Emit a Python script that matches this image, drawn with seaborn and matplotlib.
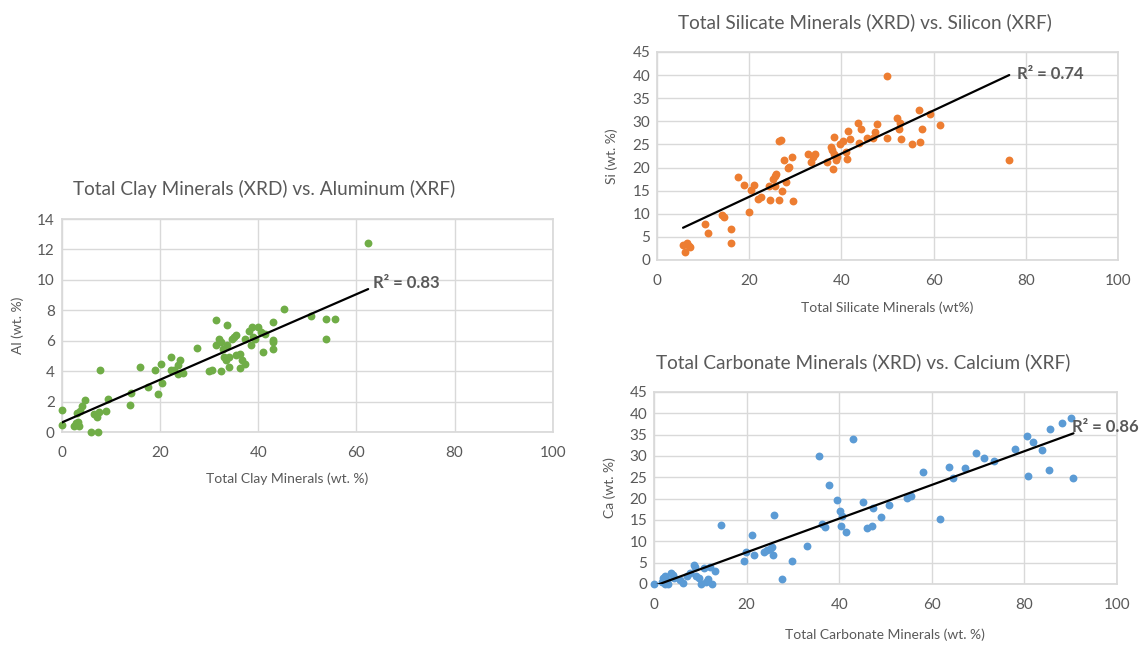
import numpy as np
import pandas as pd
import matplotlib
matplotlib.use('Agg')
import matplotlib.pyplot as plt
import seaborn as sns

# clay vs aluminum
clay_x = [0, 0, 2.4, 2.9, 3.4, 3.5, 3.1, 3.7, 4.2, 4.7, 5.9, 6.6, 7.1, 7.4, 7.8, 7.6, 9.0, 9.4,
          13.8, 14.0, 15.9, 17.5, 19.0, 19.7, 20.3, 20.4, 22.2, 22.2, 22.9, 23.6, 24.1, 23.6, 24.7,
          27.5, 30.0, 30.5, 31.4, 31.4, 32.0, 32.5, 32.5, 32.9, 33.0, 33.4, 33.7, 33.6, 34.1, 34.0,
          34.6, 35.1, 35.5, 35.4, 36.3, 36.4, 36.8, 37.4, 37.3, 38.1, 38.6, 38.8, 38.9, 39.3, 40.0,
          40.5, 40.9, 41.3, 43.0, 43.0, 43.0, 43.1, 45.2, 50.7, 53.9, 55.7, 53.9, 62.4]
clay_al = [1.42, 0.44, 0.42, 0.6, 0.65, 0.37, 1.25, 1.35, 1.7, 2.1, 0, 1.2, 1.0, 0, 4.05, 1.3, 1.35, 2.2,
           1.8, 2.55, 4.3, 2.95, 4.05, 2.5, 4.45, 3.2, 4.9, 4.05, 4.1, 4.4, 4.75, 3.8, 3.9,
           5.5, 4.0, 4.1, 7.35, 5.7, 6.1, 5.9, 4.0, 5.45, 4.95, 4.75, 5.7, 7.05, 4.25, 4.95,
           6.1, 6.25, 6.35, 5.05, 5.15, 4.2, 4.75, 4.5, 6.1, 6.65, 5.7, 6.9, 6.25, 6.1, 6.9,
           6.6, 5.25, 6.45, 7.2, 5.9, 5.45, 6.05, 8.1, 7.6, 7.4, 7.4, 6.1, 12.4]

# silicate vs silicon
sil_x = [5.65, 6.0, 6.5, 7.0, 7.2, 10.4, 11.1, 14.0, 14.5, 16.0, 16.0, 17.5, 18.8, 19.9, 20.3, 21.0,
         21.9, 22.5, 24.5, 24.3, 25.1, 25.6, 25.8, 25.7, 26.4, 26.5, 26.9, 27.2, 27.5, 27.9, 28.5,
         28.6, 29.2, 29.6, 32.8, 33.3, 34.3, 33.9, 36.8, 37.7, 38.0, 38.3, 38.1, 38.3, 38.8, 39.0,
         39.6, 40.4, 41.0, 41.2, 41.5, 41.9, 43.7, 44.2, 43.9, 45.5, 47.7, 47.2, 46.8, 49.9, 49.9,
         52.0, 52.6, 52.5, 53.0, 55.4, 56.8, 57.0, 57.5, 59.3, 61.3, 76.4]
sil_si = [3.24, 1.8, 3.6, 3.0, 2.9, 7.8, 5.8, 9.7, 9.4, 6.8, 3.6, 18.0, 16.3, 10.3, 15.1, 16.2,
          13.1, 13.7, 13.0, 16.1, 17.6, 18.2, 18.7, 16.1, 13.0, 25.8, 25.9, 15.0, 21.7, 16.9, 19.8,
          20.2, 22.2, 12.7, 23.0, 21.2, 22.9, 22.3, 21.2, 24.5, 23.9, 26.6, 19.6, 22.9, 21.6, 22.3,
          25.2, 25.8, 23.3, 21.8, 27.9, 26.1, 29.7, 28.4, 25.3, 26.5, 29.5, 27.7, 26.3, 39.7, 26.5,
          30.7, 29.7, 28.4, 26.1, 25.2, 32.5, 25.6, 28.3, 31.5, 29.1, 21.7]

# carbonate vs calcium
carb_x = [0, 1.7, 2.0, 2.4, 2.7, 2.4, 3.1, 3.7, 4.0, 4.3, 5.6, 6.2, 7.2, 7.8, 8.7, 8.9, 9.1, 9.8,
          10.1, 10.9, 11.3, 11.6, 12.1, 12.5, 13.1, 14.4, 19.5, 19.9, 21.2, 21.7, 23.7, 24.4, 25.0,
          25.5, 25.8, 26.0, 27.7, 29.8, 33.1, 35.7, 36.3, 37.0, 37.8, 39.6, 40.2, 40.3, 40.6, 41.4,
          43.0, 45.1, 47.4, 46.1, 47.0, 49.0, 50.8, 54.6, 55.4, 58.0, 61.8, 63.8, 64.5, 67.2, 69.6,
          71.3, 73.5, 77.9, 80.6, 81.8, 80.7, 83.8, 85.3, 85.6, 88.1, 90.1, 90.6]
carb_ca = [0, 0.5, 1.4, 1.8, 1.0, 0, 0, 2.6, 2.0, 1.4, 0.9, 0.2, 1.8, 2.6, 4.5, 4.0, 1.8, 1.4,
           0.1, 3.7, 0.5, 1.2, 3.9, 0.1, 3.1, 13.9, 5.5, 7.4, 11.5, 6.9, 7.4, 7.9, 8.2,
           8.6, 6.9, 16.2, 1.2, 5.5, 8.8, 30.0, 14.1, 13.3, 23.1, 19.7, 17.1, 13.7, 16.0, 12.1,
           33.9, 19.1, 17.9, 13.1, 13.6, 15.8, 18.4, 20.2, 20.7, 26.3, 15.3, 27.3, 24.9, 27.1, 30.6,
           29.6, 28.9, 31.6, 34.7, 33.3, 25.3, 31.4, 26.6, 36.4, 37.8, 39.0, 24.8]

titles = ['Total Clay Minerals (XRD) vs. Aluminum (XRF)',
          'Total Silicate Minerals (XRD) vs. Silicon (XRF)',
          'Total Carbonate Minerals (XRD) vs. Calcium (XRF)']
xlabels = ['Total Clay Minerals (wt. %)', 'Total Silicate Minerals (wt%)', 'Total Carbonate Minerals (wt. %)']
ylabels = ['Al (wt. %)', 'Si (wt. %)', 'Ca (wt. %)']
r2_labels = ['R² = 0.83', 'R² = 0.74', 'R² = 0.86']
colors = ['#70AD47', '#ED7D31', '#5B9BD5']

sns.set_theme(style='white')
plt.rcParams['font.family'] = ['Lato', 'DejaVu Sans']
txt = '#595959'
grid = '#D9D9D9'

fig = plt.figure(figsize=(11.48, 6.45), dpi=100)
ax1 = fig.add_axes([0.0538, 0.3302, 0.4277, 0.3302])
ax2 = fig.add_axes([0.5723, 0.5969, 0.4016, 0.3225])
ax3 = fig.add_axes([0.5697, 0.0946, 0.4033, 0.2977])

# ax, x, y, ymax, step, title x, xlabel pos, ylabel x, r2 pos
panels = [
    (ax1, clay_x, clay_al, 14, 2, 0.413, (0.458, -0.192), -0.077, (63.4, 9.8)),
    (ax2, sil_x, sil_si, 45, 5, 0.45, (0.5, -0.197), -0.085, (78.1, 40.2)),
    (ax3, carb_x, carb_ca, 45, 5, 0.451, (0.499, -0.234), -0.082, (90.3, 36.8)),
]

for i, (ax, xs, ys, ymax, ystep, tx, lpos, ly, r2pos) in enumerate(panels):
    df = pd.DataFrame({'x': xs, 'y': ys})
    sns.scatterplot(data=df, x='x', y='y', ax=ax, color=colors[i], s=32, linewidth=0,
                    zorder=3, clip_on=False)
    sns.regplot(data=df, x='x', y='y', ax=ax, scatter=False, ci=None,
                line_kws={'color': 'black', 'lw': 1.6, 'zorder': 4})
    ax.set_xlim(0, 100)
    ax.set_ylim(0, ymax)
    ax.set_xticks(np.arange(0, 101, 20))
    ax.set_yticks(np.arange(0, ymax + 1, ystep))
    ax.grid(True, color=grid, lw=1)
    for s in ax.spines.values():
        s.set_color(grid)
    ax.tick_params(length=0, labelsize=11, labelcolor=txt)
    ax.tick_params(axis='x', pad=10)
    ax.tick_params(axis='y', pad=5)
    ax.set_xlabel(xlabels[i], fontsize=10, color=txt)
    ax.set_ylabel(ylabels[i], fontsize=10, color=txt)
    ax.xaxis.set_label_coords(*lpos)
    ax.yaxis.set_label_coords(ly, 0.5)
    ax.text(tx, 1.0 + 30 / (ax.get_position().height * 645), titles[i], transform=ax.transAxes,
            ha='center', va='center', fontsize=13.7, color=txt)
    ax.text(r2pos[0], r2pos[1], r2_labels[i], fontsize=12, fontweight='bold', color=txt,
            va='center', ha='left', zorder=5)

fig.savefig('out.png', dpi=100)
